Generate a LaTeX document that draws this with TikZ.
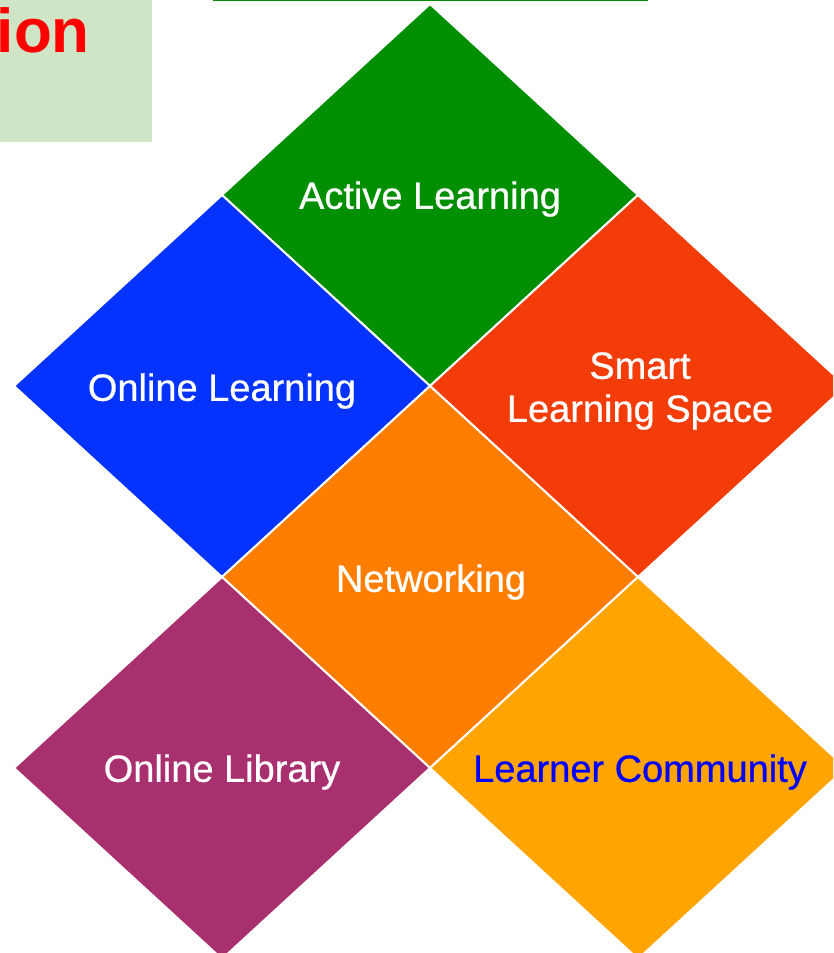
\documentclass[tikz,border=0pt]{standalone}
\usepackage{fontspec}
\setmainfont{Liberation Sans}
\newfontfamily\medfont[FakeBold=0.7]{Liberation Sans}
\definecolor{cGreen}{HTML}{008F00}
\definecolor{cBlue}{HTML}{0433FF}
\definecolor{cRed}{HTML}{F33C08}
\definecolor{cOrange}{HTML}{FF7E00}
\definecolor{cPurple}{HTML}{A9306E}
\definecolor{cYellow}{HTML}{FFA400}
\definecolor{cPale}{HTML}{CFE5C6}
\newcommand{\mydia}[3]{\path[fill=#3, draw=white, line width=2pt, line join=miter] (#1-208,#2) -- (#1,#2+191) -- (#1+208,#2) -- (#1,#2-191) -- cycle;}
\tikzset{
  lbl/.style={text=white, font=\medfont\fontsize{38}{43}\selectfont, align=center, inner sep=0pt},
  title/.style={text=red, font=\fontsize{62}{70}\selectfont\bfseries, inner sep=0pt}
}
\begin{document}
\begin{tikzpicture}[x=1pt,y=1pt]
\useasboundingbox (0,0) rectangle (833,953);
\clip (0,0) rectangle (833,953);
% title box remnant
\fill[cPale] (0,953) rectangle (152,811);
\node[title, anchor=base east] (ttl) at (90,900) {ion};
\draw[cGreen, line width=2pt] (213,953) -- (648,953);
% diamonds
\mydia{430}{758}{cGreen}
\mydia{222}{567}{cBlue}
\mydia{638}{567}{cRed}
\mydia{430}{376}{cOrange}
\mydia{222}{185}{cPurple}
\mydia{638}{185}{cYellow}
% labels
\node[lbl] (active) at (430,754) {Active Learning};
\node[lbl] (online) at (222,562) {Online Learning};
\node[lbl] (smart) at (640,562) {Smart\\Learning Space};
\node[lbl] (net) at (431,371) {Networking};
\node[lbl] (lib) at (222,181) {Online Library};
\node[lbl, text=blue] (comm) at (640,181) {Learner Community};
\end{tikzpicture}
\end{document}
